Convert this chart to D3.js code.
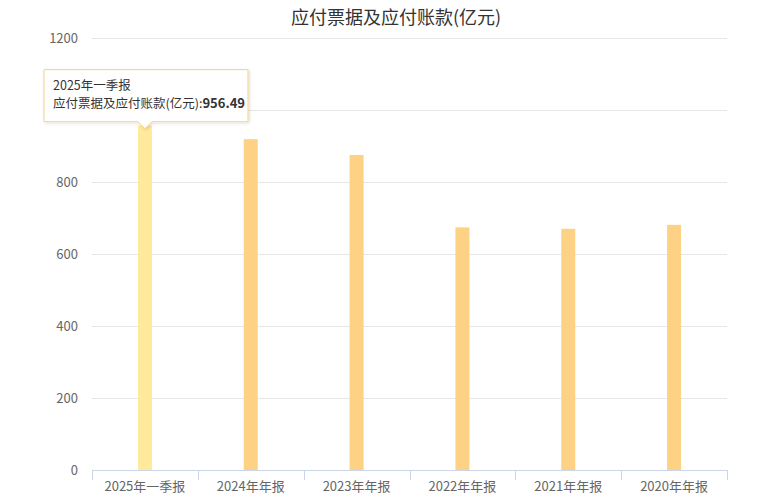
<!DOCTYPE html>
<html lang="zh">
<head>
<meta charset="UTF-8">
<title>应付票据及应付账款</title>
<script src="https://d3js.org/d3.v7.min.js"></script>
<style>
  body { margin: 0; background: #fff; }
  svg text { font-family: "Noto Sans CJK SC", "Noto Sans", sans-serif; }
</style>
</head>
<body>
<script>
// data
const categories = ["2025年一季报", "2024年年报", "2023年年报", "2022年年报", "2021年年报", "2020年年报"];
const values = [956.49, 919, 875, 674, 670, 681];
const yTicks = [0, 200, 400, 600, 800, 1000, 1200];
const title = "应付票据及应付账款(亿元)";
const highlighted = 0;

const width = 777, height = 503;
const margin = {top: 38, right: 50, bottom: 33, left: 92};

const svg = d3.select("body").append("svg")
    .attr("width", width)
    .attr("height", height);

let x = d3.scaleBand()
    .domain(categories)
    .range([margin.left, width - margin.right]);

let y = d3.scaleLinear()
    .domain([0, 1200])
    .range([height - margin.bottom, margin.top]);

// tooltip box geometry (anchored on the highlighted bar)
let cx = x(categories[highlighted]) + x.bandwidth() / 2;
let barTop = y(values[highlighted]);
let tw = 204, th = 52, tipH = 7;
let tx = 44, ty = barTop - th - 4;

// title
svg.append("text")
    .attr("x", 396)
    .attr("y", 24)
    .attr("text-anchor", "middle")
    .style("font-size", "18px")
    .style("fill", "#333")
    .text(title);

// grid lines
svg.append("g")
    .selectAll("line")
    .data(yTicks.filter(d => d > 0))
    .enter().append("line")
    .attr("x1", margin.left)
    .attr("x2", width - margin.right)
    .attr("y1", d => Math.round(y(d)) + 0.5)
    .attr("y2", d => Math.round(y(d)) + 0.5)
    .attr("stroke", "#e6e6e6")
    .attr("stroke-width", 1);

// y axis labels (the one under the tooltip is hidden, as in the picture)
let yAxis = d3.axisLeft(y).tickValues(yTicks).tickSize(0).tickPadding(14).tickFormat(d3.format("d"));
let yg = svg.append("g")
    .attr("transform", `translate(${margin.left},0)`)
    .call(yAxis);
yg.select(".domain").remove();
yg.selectAll(".tick").filter(d => y(d) > ty && y(d) < ty + th).remove();
yg.selectAll("text")
    .style("font-size", "13px")
    .style("fill", "#666");

// bars
svg.append("g")
    .selectAll("rect")
    .data(values)
    .enter().append("rect")
    .attr("x", (d, i) => x(categories[i]) + x.bandwidth() / 2 - 7)
    .attr("width", 14)
    .attr("y", d => y(d))
    .attr("height", d => y(0) - y(d))
    .attr("fill", (d, i) => i === highlighted ? "#ffe99a" : "#fdd285");

// x axis
let xAxis = d3.axisBottom(x).tickSize(0).tickPadding(12);
let xg = svg.append("g")
    .attr("transform", `translate(0,${height - margin.bottom})`)
    .call(xAxis);
xg.select(".domain").attr("stroke", "#ccd6eb");
xg.selectAll("text")
    .style("font-size", "13px")
    .style("fill", "#666");

// boundary ticks between categories
let bounds = categories.map(c => x(c)).concat([width - margin.right]);
xg.selectAll(".bound")
    .data(bounds)
    .enter().append("line")
    .attr("class", "bound")
    .attr("x1", d => Math.round(d) + 0.5)
    .attr("x2", d => Math.round(d) + 0.5)
    .attr("y1", 0)
    .attr("y2", 10)
    .attr("stroke", "#ccd6eb");

// tooltip
let tip = svg.append("g");
let path = `M${tx},${ty} h${tw} v${th} H${cx + 7} L${cx},${ty + th + tipH} L${cx - 7},${ty + th} H${tx} Z`;

let defs = svg.append("defs");
let f = defs.append("filter").attr("id", "shadow").attr("x", "-10%").attr("y", "-20%").attr("width", "130%").attr("height", "160%");
f.append("feDropShadow").attr("dx", 1).attr("dy", 1).attr("stdDeviation", 1.5).attr("flood-color", "#000").attr("flood-opacity", 0.15);

tip.append("path")
    .attr("d", path)
    .attr("fill", "rgba(255,255,255,0.96)")
    .attr("stroke", "#f5d38c")
    .attr("stroke-width", 1)
    .attr("filter", "url(#shadow)");

tip.append("text")
    .attr("x", tx + 9)
    .attr("y", ty + 20)
    .style("font-size", "12.5px")
    .style("fill", "#333")
    .text(categories[highlighted]);

let line2 = tip.append("text")
    .attr("x", tx + 9)
    .attr("y", ty + 38)
    .style("font-size", "12.5px")
    .style("fill", "#333");
line2.append("tspan").text(title + ":");
line2.append("tspan").style("font-weight", "bold").style("font-size", "13px").text(values[highlighted].toFixed(2));
</script>
</body>
</html>
